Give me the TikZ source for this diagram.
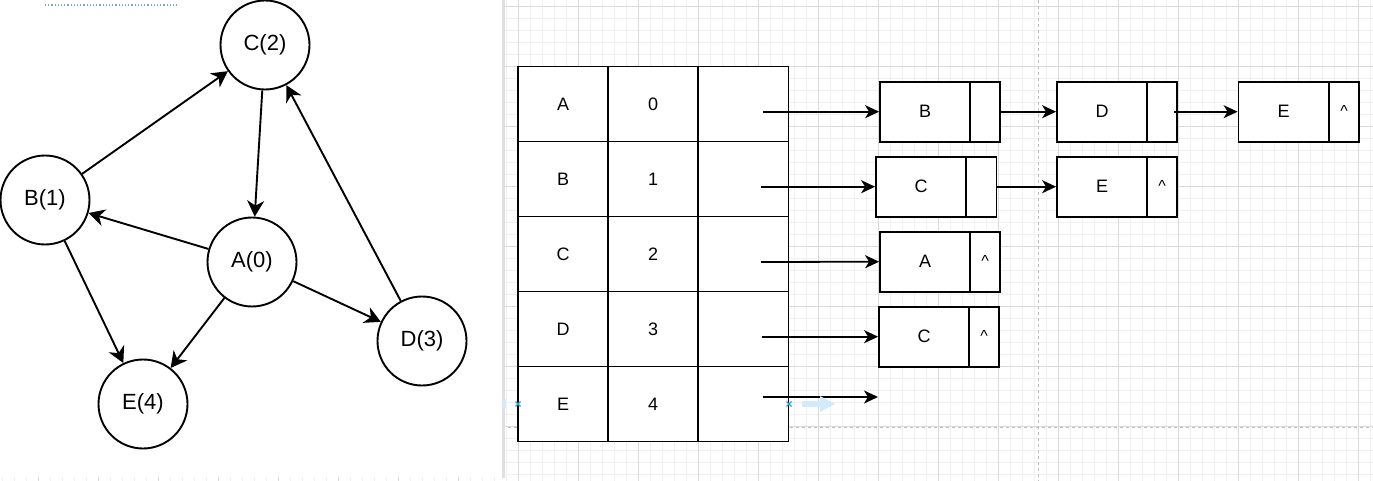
\documentclass[tikz,border=0pt]{standalone}
\usepackage{fontspec}
\setmainfont{Liberation Sans}
\usetikzlibrary{arrows.meta}
\definecolor{gridminor}{RGB}{240,240,240}
\definecolor{gridmajor}{RGB}{218,218,218}
\definecolor{pagebreak}{RGB}{190,190,190}
\definecolor{selblue}{RGB}{41,163,224}
\definecolor{hintblue}{RGB}{210,234,250}
\definecolor{dotblue}{RGB}{120,160,215}
\begin{document}
\begin{tikzpicture}[x=1pt,y=-1pt,
  vtx/.style={circle, draw, fill=white, line width=1.9pt, minimum size=89pt, inner sep=0pt, font=\fontsize{22}{25}\selectfont},
  cell/.style={draw, fill=white, line width=1.8pt, minimum width=90pt, minimum height=75pt, inner sep=0pt, font=\fontsize{18}{21}\selectfont},
  dcell/.style={draw, fill=white, line width=1.8pt, minimum width=90pt, minimum height=60pt, inner sep=0pt, font=\fontsize{18}{21}\selectfont},
  pcell/.style={draw, fill=white, line width=1.8pt, minimum width=30pt, minimum height=60pt, inner sep=0pt},
  nullmark/.style={anchor=base, inner sep=0pt, font=\fontsize{16}{19}\selectfont},
  arr/.style={line width=1.8pt, -{Stealth[length=14pt,width=13pt,inset=4pt]}},
  garr/.style={line width=1.9pt, -{Stealth[length=16pt,width=17pt,inset=5pt]}},
  gridmin/.style={draw=gridminor, line width=0.8pt},
  gridmaj/.style={draw=gridmajor, line width=0.8pt}
]
\useasboundingbox (0,0) rectangle (1373,481);
% background and grid
\fill[white] (0,0) rectangle (1373,481);
\foreach \x in {2,14,...,1370} \draw[gridmin] (\x,0) -- (\x,481);
\foreach \y in {6,18,...,480} \draw[gridmin] (0,\y) -- (1373,\y);
\foreach \x in {38,98,...,1358} \draw[gridmaj] (\x,0) -- (\x,481);
\foreach \y in {6,66,...,426} \draw[gridmaj] (0,\y) -- (1373,\y);
\draw[pagebreak, dashed, line width=0.8pt] (1038,0) -- (1038,481);
\draw[pagebreak, dashed, line width=0.8pt] (502,427) -- (1373,427);
% left white panel
\fill[black!12] (502,0) rectangle (505,478);
\fill[white] (0,0) rectangle (502,477);
\draw[dotblue, dotted, line width=1.2pt] (45,5) -- (177,5);

% graph
\node[vtx] (C) at (265,45) {C(2)};
\node[vtx] (B) at (45,200) {B(1)};
\node[vtx] (A) at (252,262) {A(0)};
\node[vtx] (D) at (422,341) {D(3)};
\node[vtx] (E) at (143,404) {E(4)};
\draw[garr] (B) -- (C);
\draw[garr] (C) -- (A);
\draw[garr] (A) -- (B);
\draw[garr] (A) -- (D);
\draw[garr] (A) -- (E);
\draw[garr] (B) -- (E);
\draw[garr] (D) -- (C);

% table
\node[cell] (tA1) at (563,104) {A};
\node[cell] (tA2) at (653,104) {0};
\node[cell] (tA3) at (743.5,104) {};
\node[cell] (tB1) at (563,179) {B};
\node[cell] (tB2) at (653,179) {1};
\node[cell] (tB3) at (743.5,179) {};
\node[cell] (tC1) at (563,254) {C};
\node[cell] (tC2) at (653,254) {2};
\node[cell] (tC3) at (743.5,254) {};
\node[cell] (tD1) at (563,329) {D};
\node[cell] (tD2) at (653,329) {3};
\node[cell] (tD3) at (743.5,329) {};
\node[cell] (tE1) at (563,404) {E};
\node[cell] (tE2) at (653,404) {4};
\node[cell] (tE3) at (743.5,404) {};

% list nodes
\node[dcell] (l1d) at (925,111.7) {B};
\node[pcell] (l1p) at (985,111.7) {};
\node[dcell] (l1bd) at (1102,111.7) {D};
\node[pcell] (l1bp) at (1162,111.7) {};
\node[dcell] (l1cd) at (1283.5,111.7) {E};
\node[pcell] (l1cp) at (1344,111.7) {};
\node[nullmark] (n1c) at ([yshift=-5pt]l1cp.center) {\textasciicircum};

\node[dcell] (l2d) at (921,186.7) {C};
\node[pcell] (l2p) at (981.5,186.7) {};
\node[dcell] (l2bd) at (1102,186.7) {E};
\node[pcell] (l2bp) at (1162,186.7) {};
\node[nullmark] (n2b) at ([yshift=-5pt]l2bp.center) {\textasciicircum};

\node[dcell] (l3d) at (925,261.7) {A};
\node[pcell] (l3p) at (985,261.7) {};
\node[nullmark] (n3) at ([yshift=-5pt]l3p.center) {\textasciicircum};

\node[dcell] (l4d) at (924,336.7) {C};
\node[pcell] (l4p) at (984,336.7) {};
\node[nullmark] (n4) at ([yshift=-5pt]l4p.center) {\textasciicircum};

% pointer arrows
\coordinate (pA) at (763,111.7);
\coordinate (pB) at (761,186.7);
\coordinate (pC) at (761,262);
\coordinate (pD) at (762,336.7);
\coordinate (pE) at (763,397);
\coordinate (eE) at (878,397);
\draw[arr] (pA) -- (l1d.west);
\draw[arr] (pB) -- (l2d.west);
\draw[arr] (pC) -- (l3d.west);
\draw[arr] (pD) -- (l4d.west);
\draw[arr] (pE) -- (eE);
\draw[arr] (l1p.east) -- (l1bd.west);
\draw[arr] ([xshift=-4pt]l1bp.east) -- (l1cd.west);
\draw[arr] (l2p.east) -- (l2bd.west);

% selection hints
\fill[hintblue] (802,401) rectangle (822,407);
\fill[hintblue] (820,396) -- (835,404) -- (820,412) -- cycle;
\fill[hintblue] (502,399) rectangle (506,408);
\draw[selblue, line width=1.2pt] (515.5,401.5) -- (520.5,406.5) (515.5,406.5) -- (520.5,401.5);
\draw[selblue, line width=1.2pt] (786.5,401.5) -- (791.5,406.5) (786.5,406.5) -- (791.5,401.5);
\end{tikzpicture}
\end{document}
